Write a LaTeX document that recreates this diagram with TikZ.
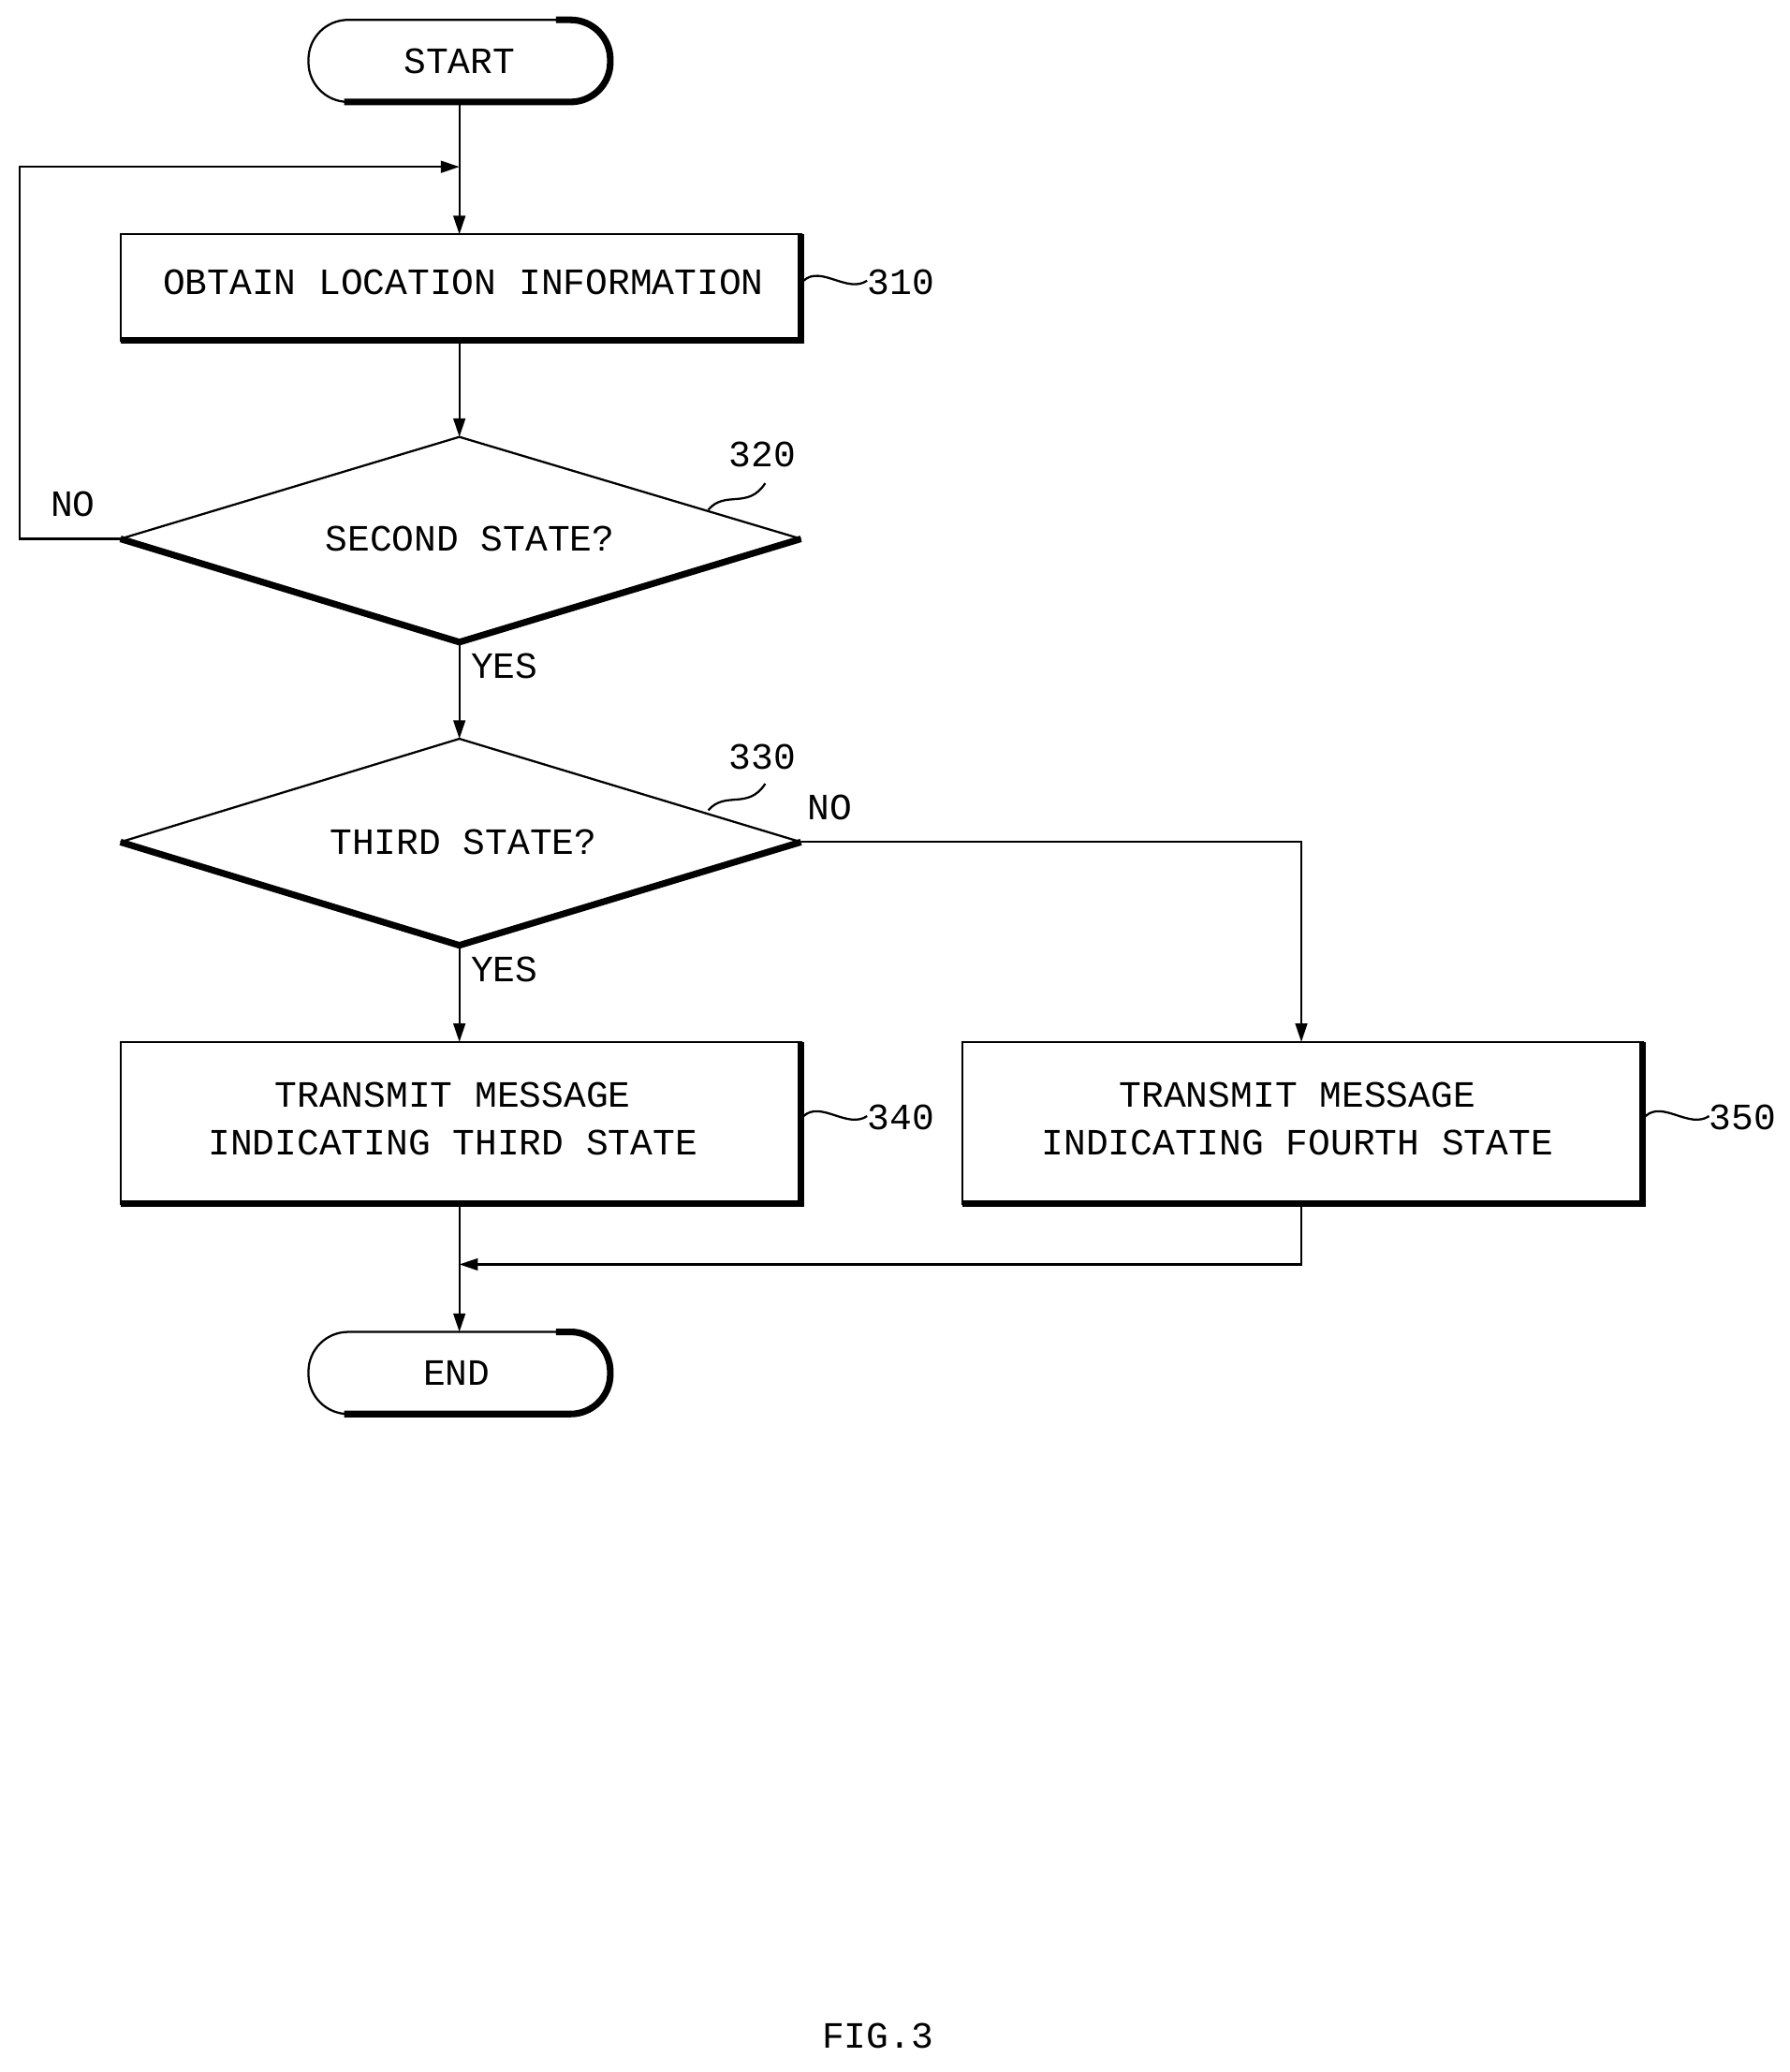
\documentclass[tikz,border=0pt]{standalone}
\usepackage{fontspec}
\setmainfont{Liberation Mono}
\usetikzlibrary{shapes.geometric,arrows.meta}
\begin{document}
\begin{tikzpicture}[x=1pt,y=-1pt,
  txt/.style={font=\fontsize{28}{36}\selectfont,align=center,inner sep=0},
  ln/.style={line width=1.6pt},
  arr/.style={ln,-{Triangle[length=14pt,width=9pt]}},
  thick edge/.style={line width=5pt}]
\useasboundingbox (0,0) rectangle (1352,1565);
% START
\draw[ln,rounded corners=30pt] (233,15) rectangle (461,77);
\draw[thick edge,rounded corners=30pt] (420,15) -- (461,15) -- (461,77) -- (260,77);
\node[txt] (start) at (347,46) {START};
% 310
\draw[ln] (91,177) rectangle (605,257);
\draw[thick edge] (605,177) -- (605,257) -- (91,257);
\node[txt] (b310) at (350,213) {OBTAIN LOCATION INFORMATION};
\coordinate (b310t) at (347,177); \coordinate (b310b) at (347,257);
\draw[ln] (607,212) .. controls (620,200) and (640,222) .. (655,212);
\node[txt,anchor=west] (l310) at (655,213) {310};
% 320
\coordinate (d1t) at (347,330); \coordinate (d1b) at (347,485);
\coordinate (d1l) at (91,407); \coordinate (d1r) at (605,407);
\draw[ln] (d1l) -- (d1t) -- (d1r);
\draw[thick edge,line join=miter] (d1r) -- (d1b) -- (d1l);
\node[txt] (d320) at (355,407) {SECOND STATE?};
\draw[ln] (535,385) .. controls (548,370) and (565,385) .. (578,365);
\node[txt] (l320) at (576,343) {320};
% 330
\coordinate (d2t) at (347,558); \coordinate (d2b) at (347,714);
\coordinate (d2l) at (91,636); \coordinate (d2r) at (605,636);
\draw[ln] (d2l) -- (d2t) -- (d2r);
\draw[thick edge,line join=miter] (d2r) -- (d2b) -- (d2l);
\node[txt] (d330) at (350,636) {THIRD STATE?};
\draw[ln] (535,612) .. controls (548,597) and (565,612) .. (578,592);
\node[txt] (l330) at (576,572) {330};
% 340
\draw[ln] (91,787) rectangle (605,909);
\draw[thick edge] (605,787) -- (605,909) -- (91,909);
\node[txt] (b340) at (342,845) {TRANSMIT MESSAGE\\INDICATING THIRD STATE};
\draw[ln] (607,843) .. controls (620,831) and (640,853) .. (655,843);
\node[txt,anchor=west] (l340) at (655,844) {340};
% 350
\draw[ln] (727,787) rectangle (1241,909);
\draw[thick edge] (1241,787) -- (1241,909) -- (727,909);
\node[txt] (b350) at (980,845) {TRANSMIT MESSAGE\\INDICATING FOURTH STATE};
\draw[ln] (1243,843) .. controls (1256,831) and (1276,853) .. (1291,843);
\node[txt,anchor=west] (l350) at (1291,844) {350};
% END
\draw[ln,rounded corners=30pt] (233,1006) rectangle (461,1068);
\draw[thick edge,rounded corners=30pt] (420,1006) -- (461,1006) -- (461,1068) -- (260,1068);
\node[txt] (end) at (345,1037) {END};
% connectors
\draw[arr] (347,77) -- (b310t);
\draw[arr] (b310b) -- (d1t);
\draw[arr] (d1l) -- (15,407) -- (15,126) -- (347,126);
\node[txt] (no1) at (55,381) {NO};
\draw[arr] (d1b) -- (d2t);
\node[txt] (yes1) at (381,503) {YES};
\draw[arr] (d2r) -- (983,636) -- (983,787);
\node[txt] (no2) at (627,610) {NO};
\draw[arr] (d2b) -- (347,787);
\node[txt] (yes2) at (381,732) {YES};
\draw[arr] (347,909) -- (347,1006);
\draw[arr] (983,909) -- (983,955) -- (347,955);
\node[txt] (fig) at (663,1538) {FIG.3};
\end{tikzpicture}
\end{document}
